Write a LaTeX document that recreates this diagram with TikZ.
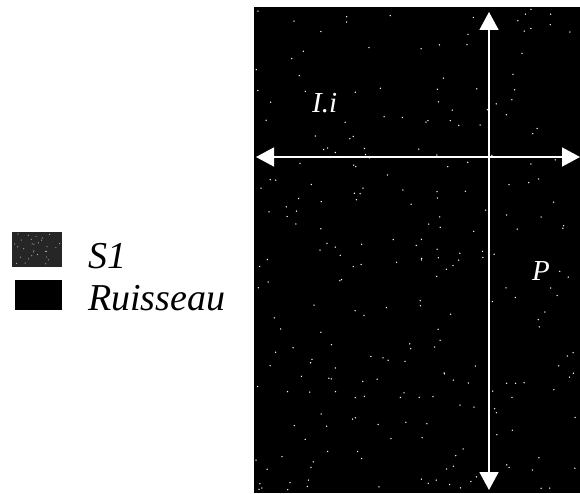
\documentclass[tikz,border=0pt]{standalone}
\usepackage{fontspec}
\setmainfont{Liberation Serif}
\usetikzlibrary{positioning,arrows.meta}

\begin{document}
\begin{tikzpicture}[x=1pt,y=1pt,
 lbl/.style={inner sep=0pt,anchor=base west,text=white,font=\fontsize{29}{29}\selectfont\itshape},
 leg/.style={inner sep=0pt,anchor=base west,font=\fontsize{38}{38}\selectfont\itshape},
 ax/.style={{Triangle[width=19pt,length=18pt]}-{Triangle[width=19pt,length=18pt]},white,line width=1.6pt}]
\useasboundingbox (0,0) rectangle (580,493);
% map
\fill[black] (254,0) rectangle (580,486);
\pgfmathsetseed{11}
\foreach \i in {1,...,260}{
  \pgfmathsetmacro\px{256+322*rnd}
  \pgfmathsetmacro\py{2+482*rnd}
  \fill[white] (\px,\py) circle (0.75);
}
\coordinate (top) at (489,481);
\coordinate (bot) at (489,3);
\coordinate (lft) at (256,336);
\coordinate (rgt) at (580,336);
\draw[ax] (bot)--(top);
\draw[ax] (lft)--(rgt);
\node[lbl] (li) at (312,380) {I.i};
\node[lbl] (p) at (532,213) {P};
% legend
\fill[black!85] (12,226) rectangle (62,261);
\pgfmathsetseed{5}
\foreach \i in {1,...,30}{
  \pgfmathsetmacro\px{14+46*rnd}
  \pgfmathsetmacro\py{228+31*rnd}
  \fill[white!70!black] (\px,\py) circle (0.6);
}
\fill[black] (15,183) rectangle (62,213);
\node[leg] (s1) at (88,225) {S1};
\node[leg] (ru) at (88,183) {Ruisseau};
\end{tikzpicture}
\end{document}
